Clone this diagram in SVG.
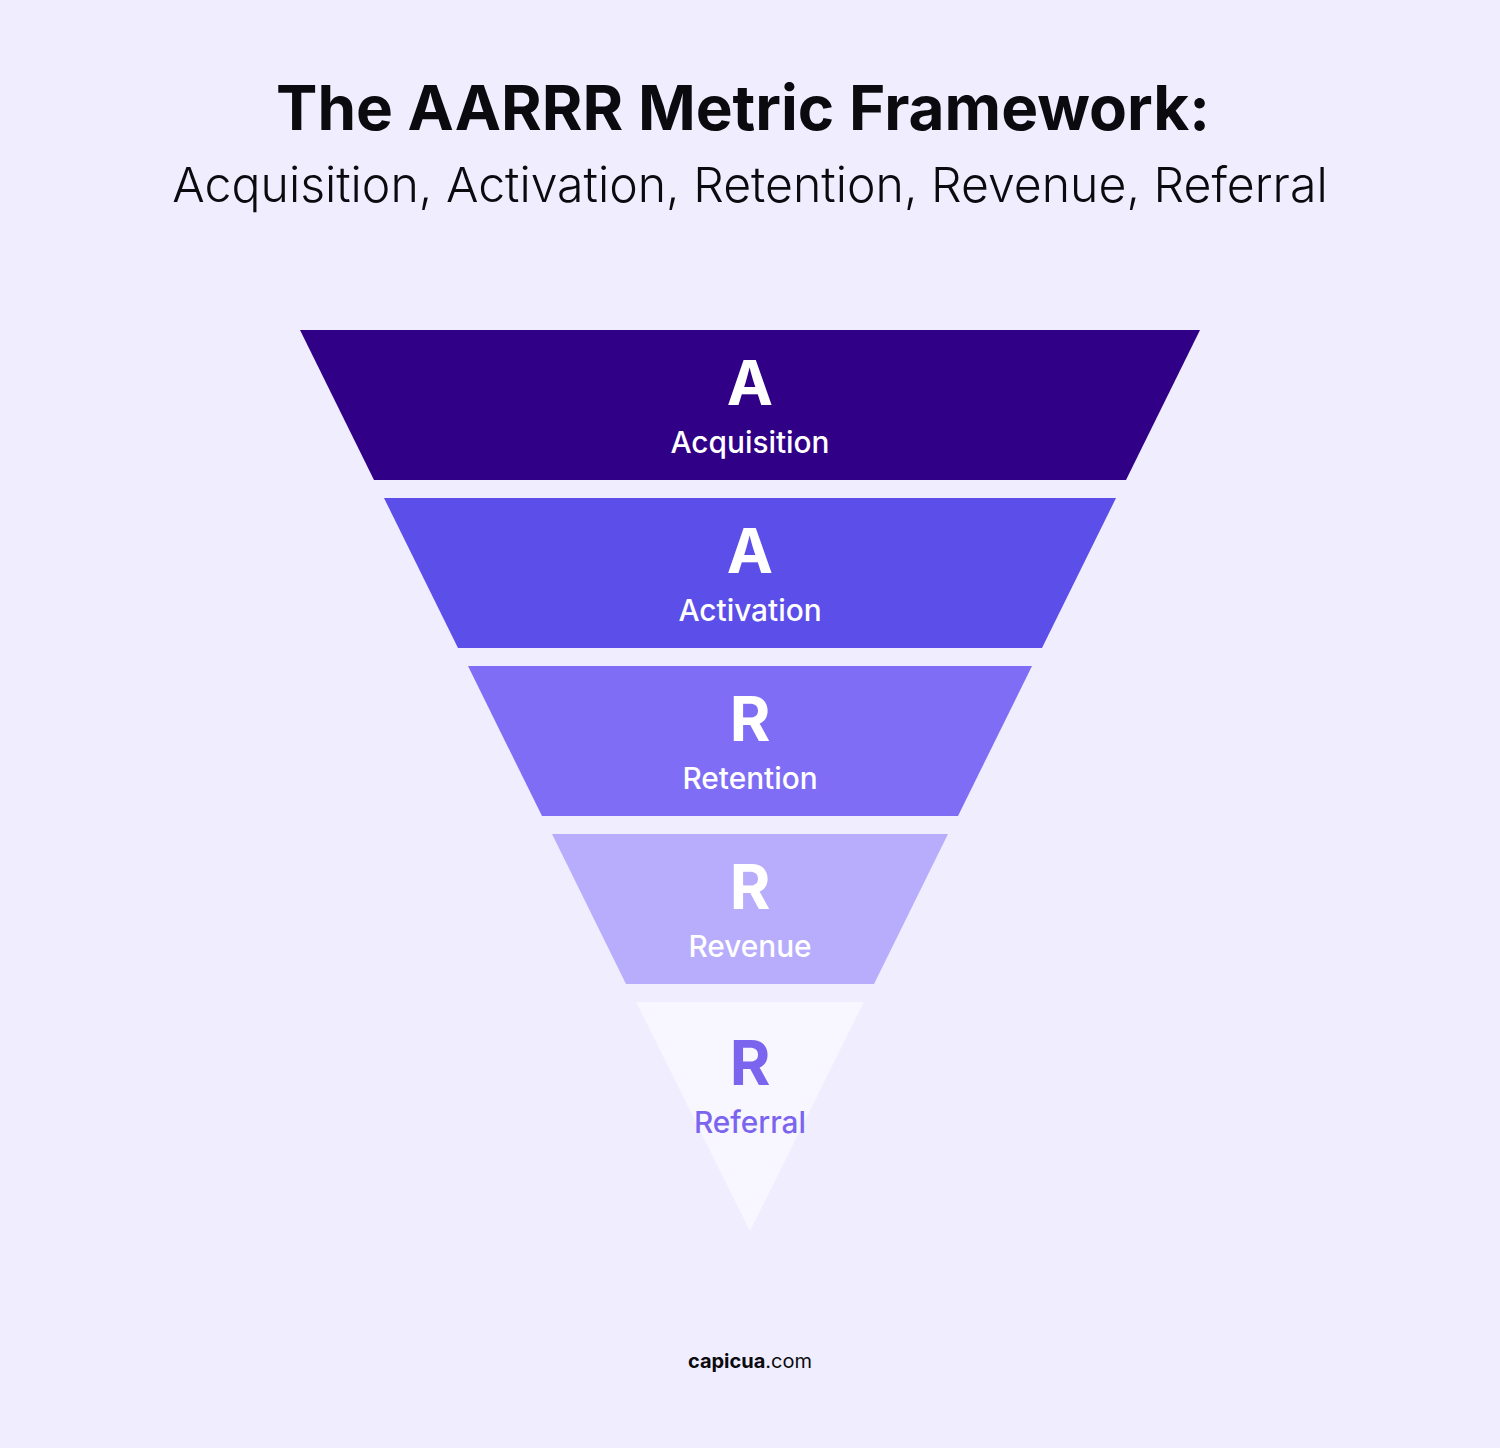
<svg xmlns="http://www.w3.org/2000/svg" width="1500" height="1448" viewBox="0 0 1500 1448">
<style>
text{font-family:Inter,"Noto Sans","Liberation Sans",sans-serif;text-anchor:middle}
.t{font-size:62px;font-weight:700;fill:#0a0a0f}
.s{font-size:48.2px;font-weight:300;fill:#0a0a0f}
.L{font-size:62px;font-weight:700;fill:#ffffff}
.n{font-size:29.8px;font-weight:500;fill:#ffffff}
.p{fill:#7b65ee}
.b{font-size:20px;fill:#0a0a0f}
</style>
<rect width="1500" height="1448" fill="#f0edfe"/>
<g id="title">
<text class="t" x="743" y="130">The AARRR Metric Framework:</text>
<text class="s" x="750" y="202">Acquisition, Activation, Retention, Revenue, Referral</text>
</g>
<g id="acquisition">
<polygon points="300,330 1200,330 1126,480 374,480" fill="#300087"/>
<text class="L" x="750" y="405">A</text>
<text class="n" x="750" y="453">Acquisition</text>
</g>
<g id="activation">
<polygon points="384,498 1116,498 1042,648 458,648" fill="#5c4ee8"/>
<text class="L" x="750" y="573">A</text>
<text class="n" x="750" y="621">Activation</text>
</g>
<g id="retention">
<polygon points="468,666 1032,666 958,816 542,816" fill="#7f6ef5"/>
<text class="L" x="750" y="741">R</text>
<text class="n" x="750" y="789">Retention</text>
</g>
<g id="revenue">
<polygon points="552,834 948,834 874,984 626,984" fill="#b8adfc"/>
<text class="L" x="750" y="909">R</text>
<text class="n" x="750" y="957">Revenue</text>
</g>
<g id="referral">
<polygon points="636,1002 864,1002 750,1231" fill="#f8f7ff"/>
<text class="L p" x="750" y="1085">R</text>
<text class="n p" x="750" y="1133">Referral</text>
</g>
<g id="connectors"></g>
<g id="logo">
<text class="b" x="750" y="1368"><tspan font-weight="700">capicua</tspan><tspan font-weight="400">.com</tspan></text>
</g>
</svg>
